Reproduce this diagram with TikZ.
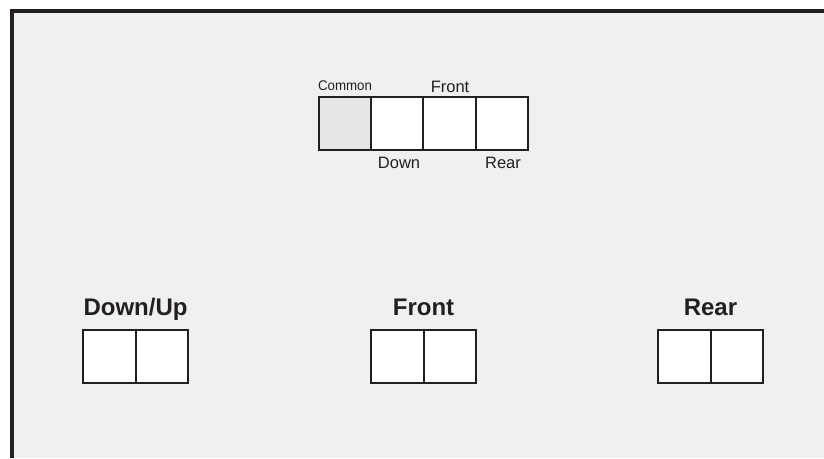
\documentclass[tikz,border=0pt]{standalone}
\usepackage{fontspec}
\setmainfont{Liberation Sans}
\definecolor{bg}{HTML}{F0F0F0}
\definecolor{common}{HTML}{E6E6E8}
\definecolor{ink}{HTML}{231F20}
\begin{document}
\begin{tikzpicture}[x=1pt,y=-1pt,
  cell/.style={draw=ink,line width=2pt,fill=white,minimum width=52.5pt,minimum height=53pt,inner sep=0pt,outer sep=0pt,anchor=north west},
  small/.style={cell,minimum width=52.2pt,minimum height=53pt},
  toplbl/.style={font=\fontsize{16.5}{18}\selectfont,text=ink,anchor=base,inner sep=0pt},
  biglbl/.style={font=\fontsize{24}{26}\selectfont\bfseries,text=ink,anchor=base,inner sep=0pt}]
\useasboundingbox (0,0) rectangle (824,458);
\fill[white] (0,0) rectangle (824,458);
\fill[bg] (12,11) rectangle (824,458);
\draw[ink,line width=4pt] (12,458) -- (12,11) -- (824,11);
% top strip
\node[small,fill=common] (c1) at (319,97) {};
\node[small] (c2) at (371.2,97) {};
\node[small] (c3) at (423.4,97) {};
\node[small] (c4) at (475.6,97) {};
\node[toplbl,font=\fontsize{14}{16}\selectfont,xscale=0.95] (lcommon) at (345,90) {Common};
\node[toplbl] (lfront) at (450,92) {Front};
\node[toplbl] (ldown) at (399,168) {Down};
\node[toplbl] (lrear) at (503,168) {Rear};
% bottom groups
\node[cell] (d1) at (83,330) {};
\node[cell] (d2) at (135.5,330) {};
\node[biglbl] (ldu) at (135.5,315) {Down/Up};
\node[cell] (f1) at (371,330) {};
\node[cell] (f2) at (423.5,330) {};
\node[biglbl] (lf) at (423.5,315) {Front};
\node[cell] (r1) at (658,330) {};
\node[cell] (r2) at (710.5,330) {};
\node[biglbl] (lr) at (710.5,315) {Rear};
\end{tikzpicture}
\end{document}
